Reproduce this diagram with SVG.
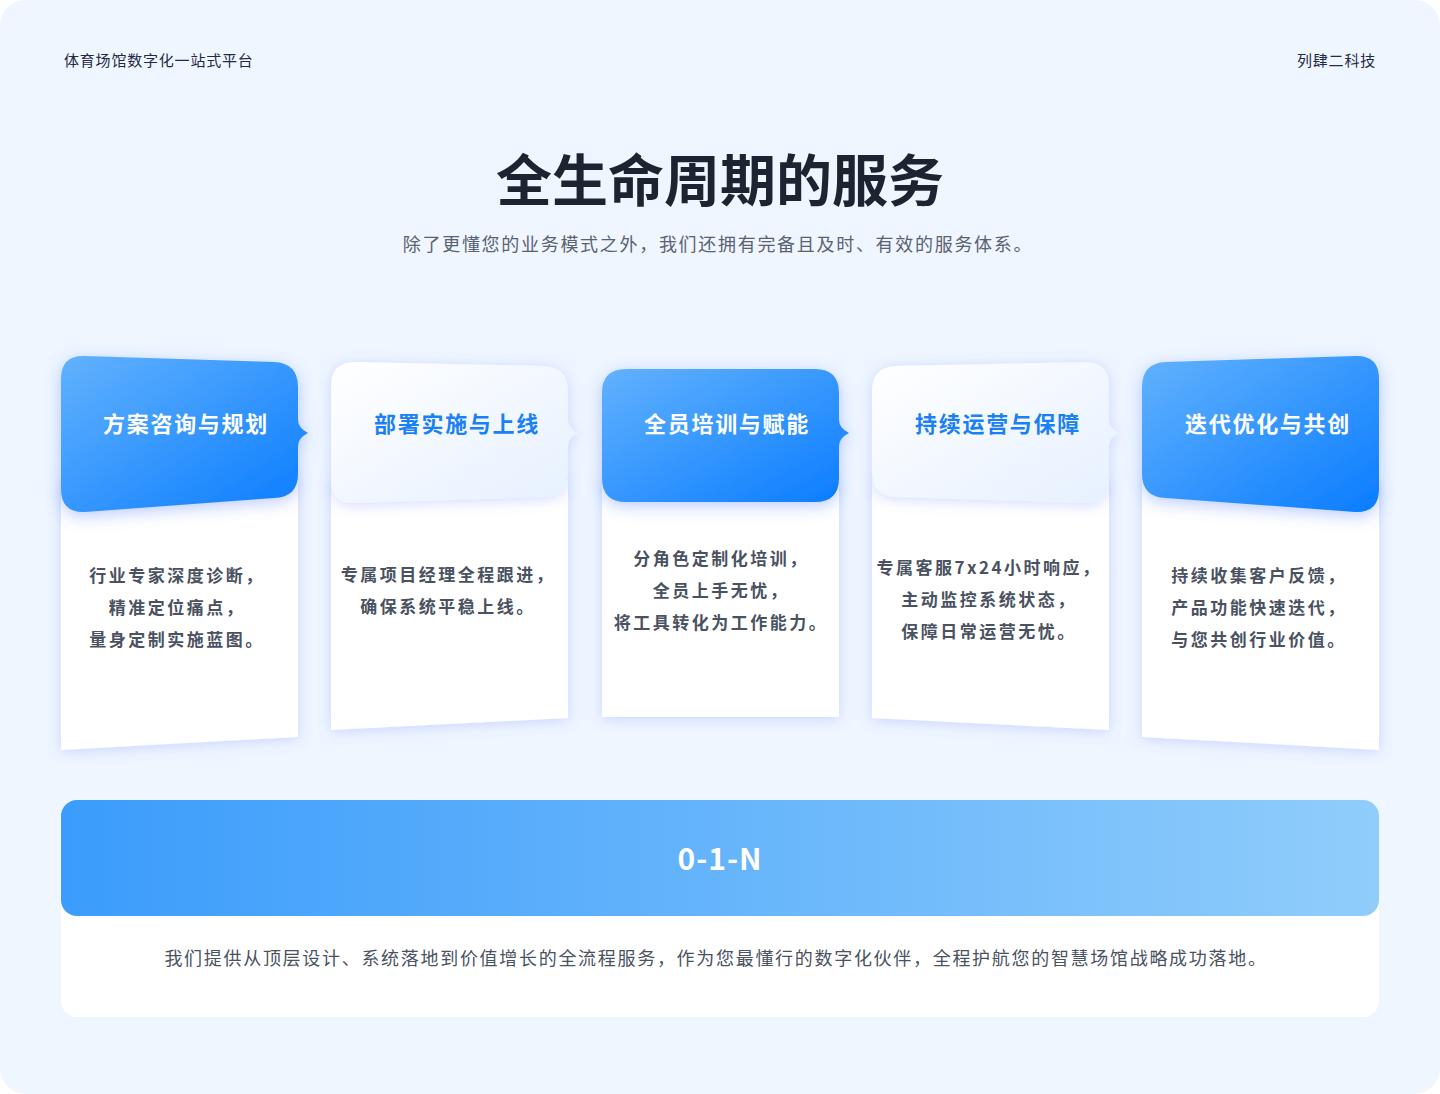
<svg xmlns="http://www.w3.org/2000/svg" width="1440" height="1094" viewBox="0 0 1440 1094">
<defs>
<linearGradient id="gb" x1="0" y1="0" x2="1" y2="1"><stop offset="0" stop-color="#62b2fd"/><stop offset="1" stop-color="#0a7cff"/></linearGradient>
<linearGradient id="gw" x1="0" y1="0" x2="1" y2="1"><stop offset="0" stop-color="#ffffff"/><stop offset="1" stop-color="#e6f0ff"/></linearGradient>
<linearGradient id="gbar" x1="0" y1="0" x2="1" y2="0"><stop offset="0" stop-color="#3b9cfb"/><stop offset="1" stop-color="#90cdfb"/></linearGradient>
<filter id="sh" x="-20%" y="-20%" width="140%" height="140%"><feDropShadow dx="0" dy="2" stdDeviation="7" flood-color="#5c7cff" flood-opacity="0.28"/></filter>
<filter id="sh2" x="-20%" y="-20%" width="140%" height="140%"><feDropShadow dx="0" dy="4" stdDeviation="8" flood-color="#3a6bff" flood-opacity="0.35"/></filter>
</defs>
<style>
text{font-family:"Noto Sans CJK SC","Noto Sans",sans-serif;}
.hd{font-size:22px;font-weight:700;text-anchor:middle;letter-spacing:1.7px}
.w{fill:#ffffff}.b{fill:#1a80f5}
.bd{font-size:17px;font-weight:700;fill:#4a5262;text-anchor:middle;letter-spacing:2.5px}
.body{fill:#ffffff}
</style>
<rect width="1440" height="1094" fill="#ffffff"/>
<rect x="0" y="0" width="1440" height="1094" rx="26" fill="#eff6ff"/>
<text x="64" y="66" font-size="15" fill="#1f2a44" letter-spacing="0.8">体育场馆数字化一站式平台</text>
<text x="1376" y="66" font-size="15" fill="#1f2a44" text-anchor="end" letter-spacing="0.8">列肆二科技</text>
<text x="720" y="201" font-size="56" font-weight="700" fill="#1d2330" text-anchor="middle">全生命周期的服务</text>
<text x="718" y="251" font-size="18" fill="#5a6272" text-anchor="middle" letter-spacing="1.7">除了更懂您的业务模式之外，我们还拥有完备且及时、有效的服务体系。</text>

<g id="card1">
<path class="body" filter="url(#sh)" d="M61,480 L298,480 L298,737 L61,750 Z"/>
<path fill="url(#gb)" filter="url(#sh2)" d="M85,356 L274,362 Q298,363 298,387 L298,420 Q298,428 308,433 Q298,438 298,446 L298,474 Q298,497 274,498 L85,512 Q61,513 61,489 L61,379 Q61,355 85,356 Z"/>
<text class="hd w" x="186" y="432">方案咨询与规划</text>
<text class="bd" x="177" y="582">行业专家深度诊断，</text>
<text class="bd" x="177" y="614">精准定位痛点，</text>
<text class="bd" x="177" y="646">量身定制实施蓝图。</text>
</g>
<g id="card2">
<path class="body" filter="url(#sh)" d="M331,480 L568,480 L568,718 L331,730 Z"/>
<path fill="url(#gw)" filter="url(#sh)" d="M355,362 L544,366 Q568,367 568,391 L568,420 Q568,428 578,433 Q568,438 568,446 L568,473 Q568,496 544,497 L355,503 Q331,504 331,480 L331,386 Q331,362 355,362 Z"/>
<text class="hd b" x="457" y="432">部署实施与上线</text>
<text class="bd" x="448" y="581">专属项目经理全程跟进，</text>
<text class="bd" x="448" y="613">确保系统平稳上线。</text>
</g>
<g id="card3">
<path class="body" filter="url(#sh)" d="M602,480 L839,480 L839,717 L602,717 Z"/>
<path fill="url(#gb)" filter="url(#sh2)" d="M626,369 L815,369 Q839,369 839,393 L839,420 Q839,428 849,433 Q839,438 839,446 L839,478 Q839,502 815,502 L626,502 Q602,502 602,478 L602,393 Q602,369 626,369 Z"/>
<text class="hd w" x="727" y="432">全员培训与赋能</text>
<text class="bd" x="721" y="565">分角色定制化培训，</text>
<text class="bd" x="721" y="597">全员上手无忧，</text>
<text class="bd" x="721" y="629">将工具转化为工作能力。</text>
</g>
<g id="card4">
<path class="body" filter="url(#sh)" d="M872,480 L1109,480 L1109,730 L872,718 Z"/>
<path fill="url(#gw)" filter="url(#sh)" d="M896,366 L1085,362 Q1109,362 1109,386 L1109,420 Q1109,428 1119,433 Q1109,438 1109,446 L1109,480 Q1109,504 1085,503 L896,497 Q872,496 872,473 L872,391 Q872,367 896,366 Z"/>
<text class="hd b" x="998" y="432">持续运营与保障</text>
<text class="bd" x="989" y="574">专属客服7x24小时响应，</text>
<text class="bd" x="989" y="606">主动监控系统状态，</text>
<text class="bd" x="989" y="638">保障日常运营无忧。</text>
</g>
<g id="card5">
<path class="body" filter="url(#sh)" d="M1142,480 L1379,480 L1379,750 L1142,737 Z"/>
<path fill="url(#gb)" filter="url(#sh2)" d="M1166,362 L1355,356 Q1379,355 1379,379 L1379,489 Q1379,513 1355,512 L1166,498 Q1142,497 1142,474 L1142,387 Q1142,363 1166,362 Z"/>
<text class="hd w" x="1268" y="432">迭代优化与共创</text>
<text class="bd" x="1259" y="582">持续收集客户反馈，</text>
<text class="bd" x="1259" y="614">产品功能快速迭代，</text>
<text class="bd" x="1259" y="646">与您共创行业价值。</text>
</g>
<g id="connectors"></g>
<g id="summary">
<rect x="61" y="880" width="1318" height="137" rx="16" fill="#ffffff"/>
<rect x="61" y="800" width="1318" height="116" rx="16" fill="url(#gbar)"/>
<text x="720" y="870" font-size="30" font-weight="700" fill="#ffffff" text-anchor="middle" letter-spacing="1">0-1-N</text>
<text x="716" y="965" font-size="18" fill="#4a5262" text-anchor="middle" letter-spacing="1.7">我们提供从顶层设计、系统落地到价值增长的全流程服务，作为您最懂行的数字化伙伴，全程护航您的智慧场馆战略成功落地。</text>
</g>
</svg>
